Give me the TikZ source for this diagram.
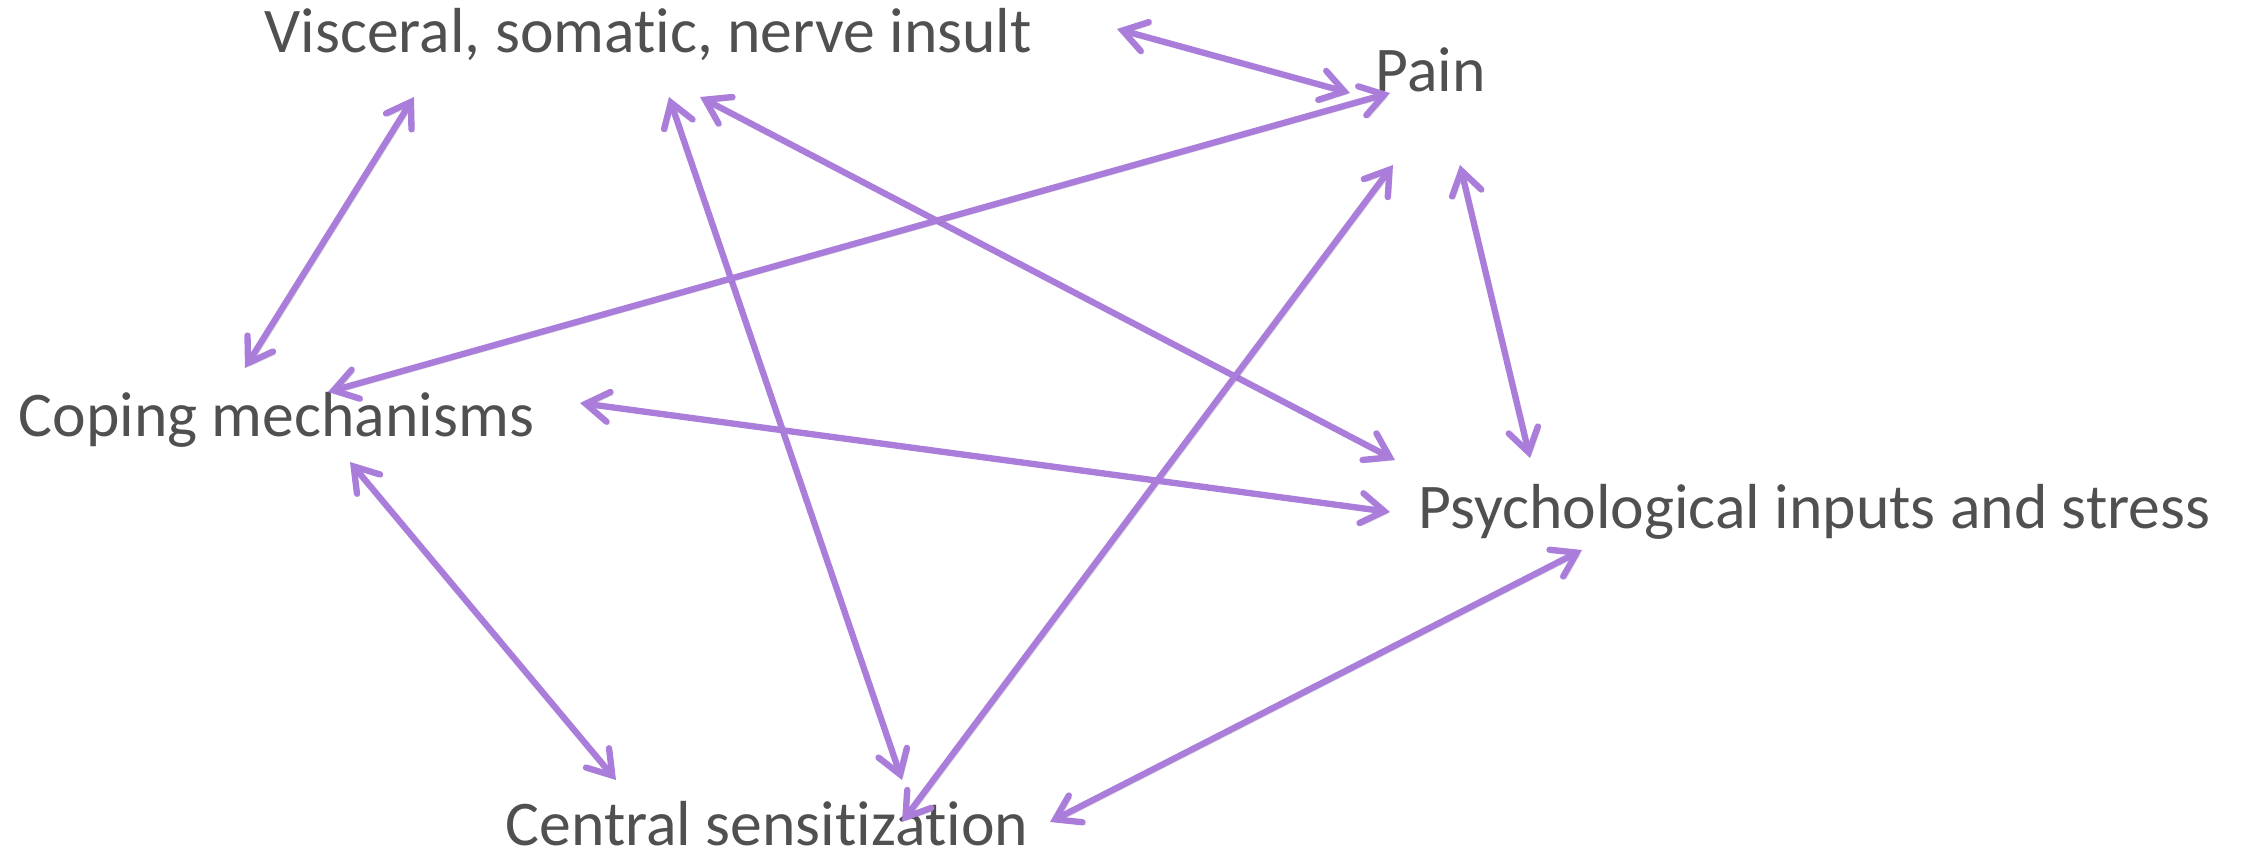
\documentclass[tikz,border=0pt]{standalone}
\usepackage{fontspec}
\setmainfont{Carlito}[RawFeature={-liga;-dlig;-clig}]
\usetikzlibrary{arrows.meta}
\definecolor{linkpurple}{HTML}{AB7DDB}
\definecolor{labelgray}{HTML}{505050}
\begin{document}
\begin{tikzpicture}[x=0.01cm,y=-0.01cm,
    label/.style={anchor=base west,inner sep=0pt,text=labelgray,font=\fontsize{18.1}{22}\selectfont},
    link/.style={linkpurple,line width=1.8pt,line cap=round,
      {Straight Barb[length=2.3mm,width=3mm,line cap=round]}-{Straight Barb[length=2.3mm,width=3mm,line cap=round]},
      preaction={draw=black,opacity=0.12,transform canvas={shift={(0.7pt,-0.7pt)}}}}]
    \useasboundingbox (0,0) rectangle (2241,861);

    \node[label] (vis) at (264,53) {Visceral, somatic, nerve insult};
    \node[label] (pain) at (1375,92) {Pain};
    \node[label] (cop) at (18,437) {Coping mechanisms};
    \node[label] (psy) at (1418,529) {Psychological inputs and stress};
    \node[label] (cen) at (505,846) {Central sensitization};

    \draw[link] ([shift={(853,-24)}]vis.base west) -- ([shift={(-25,1)}]pain.base west);
    \draw[link] ([shift={(150,44)}]vis.base west) -- ([shift={(227,-69)}]cop.base west);
    \draw[link] ([shift={(405,44)}]vis.base west) -- ([shift={(397,-66)}]cen.base west);
    \draw[link] ([shift={(436,44)}]vis.base west) -- ([shift={(-23,-69)}]psy.base west);

    \draw[link] ([shift={(15,1)}]pain.base west) -- ([shift={(310,-45)}]cop.base west);
    \draw[link] ([shift={(18,73)}]pain.base west) -- ([shift={(397,-24)}]cen.base west);
    \draw[link] ([shift={(85,73)}]pain.base west) -- ([shift={(112,-71)}]psy.base west);

    \draw[link] ([shift={(562,-34)}]cop.base west) -- ([shift={(-28,-17)}]psy.base west);
    \draw[link] ([shift={(332,25)}]cop.base west) -- ([shift={(111,-66)}]cen.base west);

    \draw[link] ([shift={(164,21)}]psy.base west) -- ([shift={(545,-24)}]cen.base west);
\end{tikzpicture}
\end{document}
